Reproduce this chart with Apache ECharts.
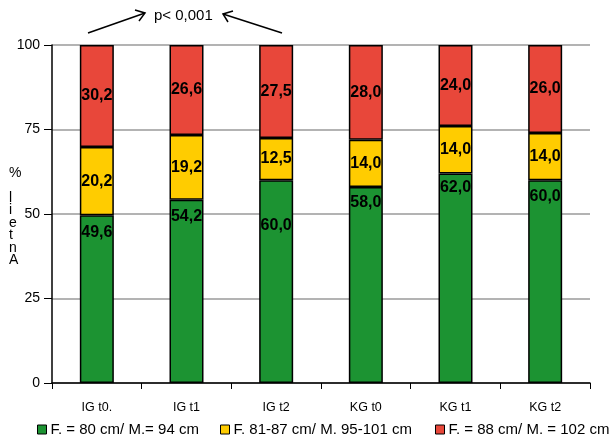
<!DOCTYPE html>
<html><head><meta charset="utf-8">
<script src="https://cdn.jsdelivr.net/npm/echarts@6/dist/echarts.min.js"></script>
<style>html,body{margin:0;padding:0;background:#fff}#c{width:611px;height:441px}</style>
</head><body><div id="c"></div>
<script>
var categories = ['IG t0.', 'IG t1', 'IG t2', 'KG t0', 'KG t1', 'KG t2'];
var seriesNames = ['F. = 80 cm/ M.= 94 cm', 'F. 81-87 cm/ M. 95-101 cm', 'F. = 88 cm/ M. = 102 cm'];
var greenVals = [49.6, 54.2, 60.0, 58.0, 62.0, 60.0];
var yellowVals = [20.2, 19.2, 12.5, 14.0, 14.0, 14.0];
var redVals = [30.2, 26.6, 27.5, 28.0, 24.0, 26.0];
var yTicks = [0, 25, 50, 75, 100];
var greenLabelDist = [9, 9, 37, 8, 6, 8];
var colors = ['#1c9332', '#ffcc00', '#e8473a'];
var legendLefts = [37, 220, 435];

var chart = echarts.init(document.getElementById('c'));
var FONT = 'Liberation Sans, Arial, sans-serif';
function fmt(v){ return v.toFixed(1).replace('.', ','); }
var labelBase = {show:true, color:'#000', fontWeight:'bold', fontSize:16, fontFamily:FONT,
  formatter:function(p){return fmt(p.value);}};
function mk(name, vals, color, pos){
  return {
    name:name, type:'bar', stack:'s', barWidth:34,
    itemStyle:{color:color, borderColor:'#000', borderWidth:1.5},
    label:Object.assign({position:pos}, labelBase),
    data: vals.map(function(v,i){
      var d = {value:v};
      if (pos === 'insideTop') d.label = {distance: greenLabelDist[i]};
      return d;
    })
  };
}
var yLabelChars = ['%', '', 'l', 'i', 'e', 't', 'n', 'A'];
var graphics = yLabelChars.map(function(ch, i){
  return {type:'text', left:9, top:166 + i*12.5, style:{text:ch, font:'14px '+FONT, fill:'#000'}};
});
graphics.push(
  {type:'text', left:154, top:8, style:{text:'p< 0,001', font:'15px '+FONT, fill:'#000'}},
  {type:'line', shape:{x1:88, y1:33, x2:145, y2:13}, style:{stroke:'#000', lineWidth:1.5}},
  {type:'polyline', shape:{points:[[135,10],[145,13],[139,21]]}, style:{stroke:'#000', lineWidth:1.5, fill:null}},
  {type:'line', shape:{x1:282, y1:33, x2:223, y2:14}, style:{stroke:'#000', lineWidth:1.5}},
  {type:'polyline', shape:{points:[[228,22],[223,14],[233,11]]}, style:{stroke:'#000', lineWidth:1.5, fill:null}}
);
var legends = seriesNames.map(function(n, i){
  return {
    bottom:4, left:legendLefts[i], padding:0, itemWidth:9, itemHeight:9, itemGap:5,
    textStyle:{fontSize:15, color:'#000', fontFamily:FONT, padding:[0,0,0,-1]},
    itemStyle:{borderColor:'#000', borderWidth:1},
    data:[n], icon:'rect'
  };
});
chart.setOption({
  animation:false,
  textStyle:{fontFamily:FONT},
  color:colors,
  grid:{left:52, right:21, top:45, bottom:58},
  legend:legends,
  xAxis:{type:'category', data:categories,
    axisLine:{lineStyle:{color:'#000', width:1.5}},
    axisTick:{show:true, length:6, lineStyle:{color:'#000'}},
    axisLabel:{fontSize:12.5, color:'#000', margin:18}},
  yAxis:{type:'value', min:0, max:100, interval:25,
    axisLine:{show:true, lineStyle:{color:'#000', width:1.5}},
    axisTick:{show:true, length:8, lineStyle:{color:'#000'}},
    axisLabel:{fontSize:14, color:'#000', margin:12,
      formatter:function(v){ return yTicks.indexOf(v) >= 0 ? String(v) : ''; }},
    splitLine:{lineStyle:{color:'#9a9a9a', width:1.5}}},
  graphic:graphics,
  series:[
    mk(seriesNames[0], greenVals, colors[0], 'insideTop'),
    mk(seriesNames[1], yellowVals, colors[1], 'inside'),
    mk(seriesNames[2], redVals, colors[2], 'inside')
  ]
});
</script></body></html>
